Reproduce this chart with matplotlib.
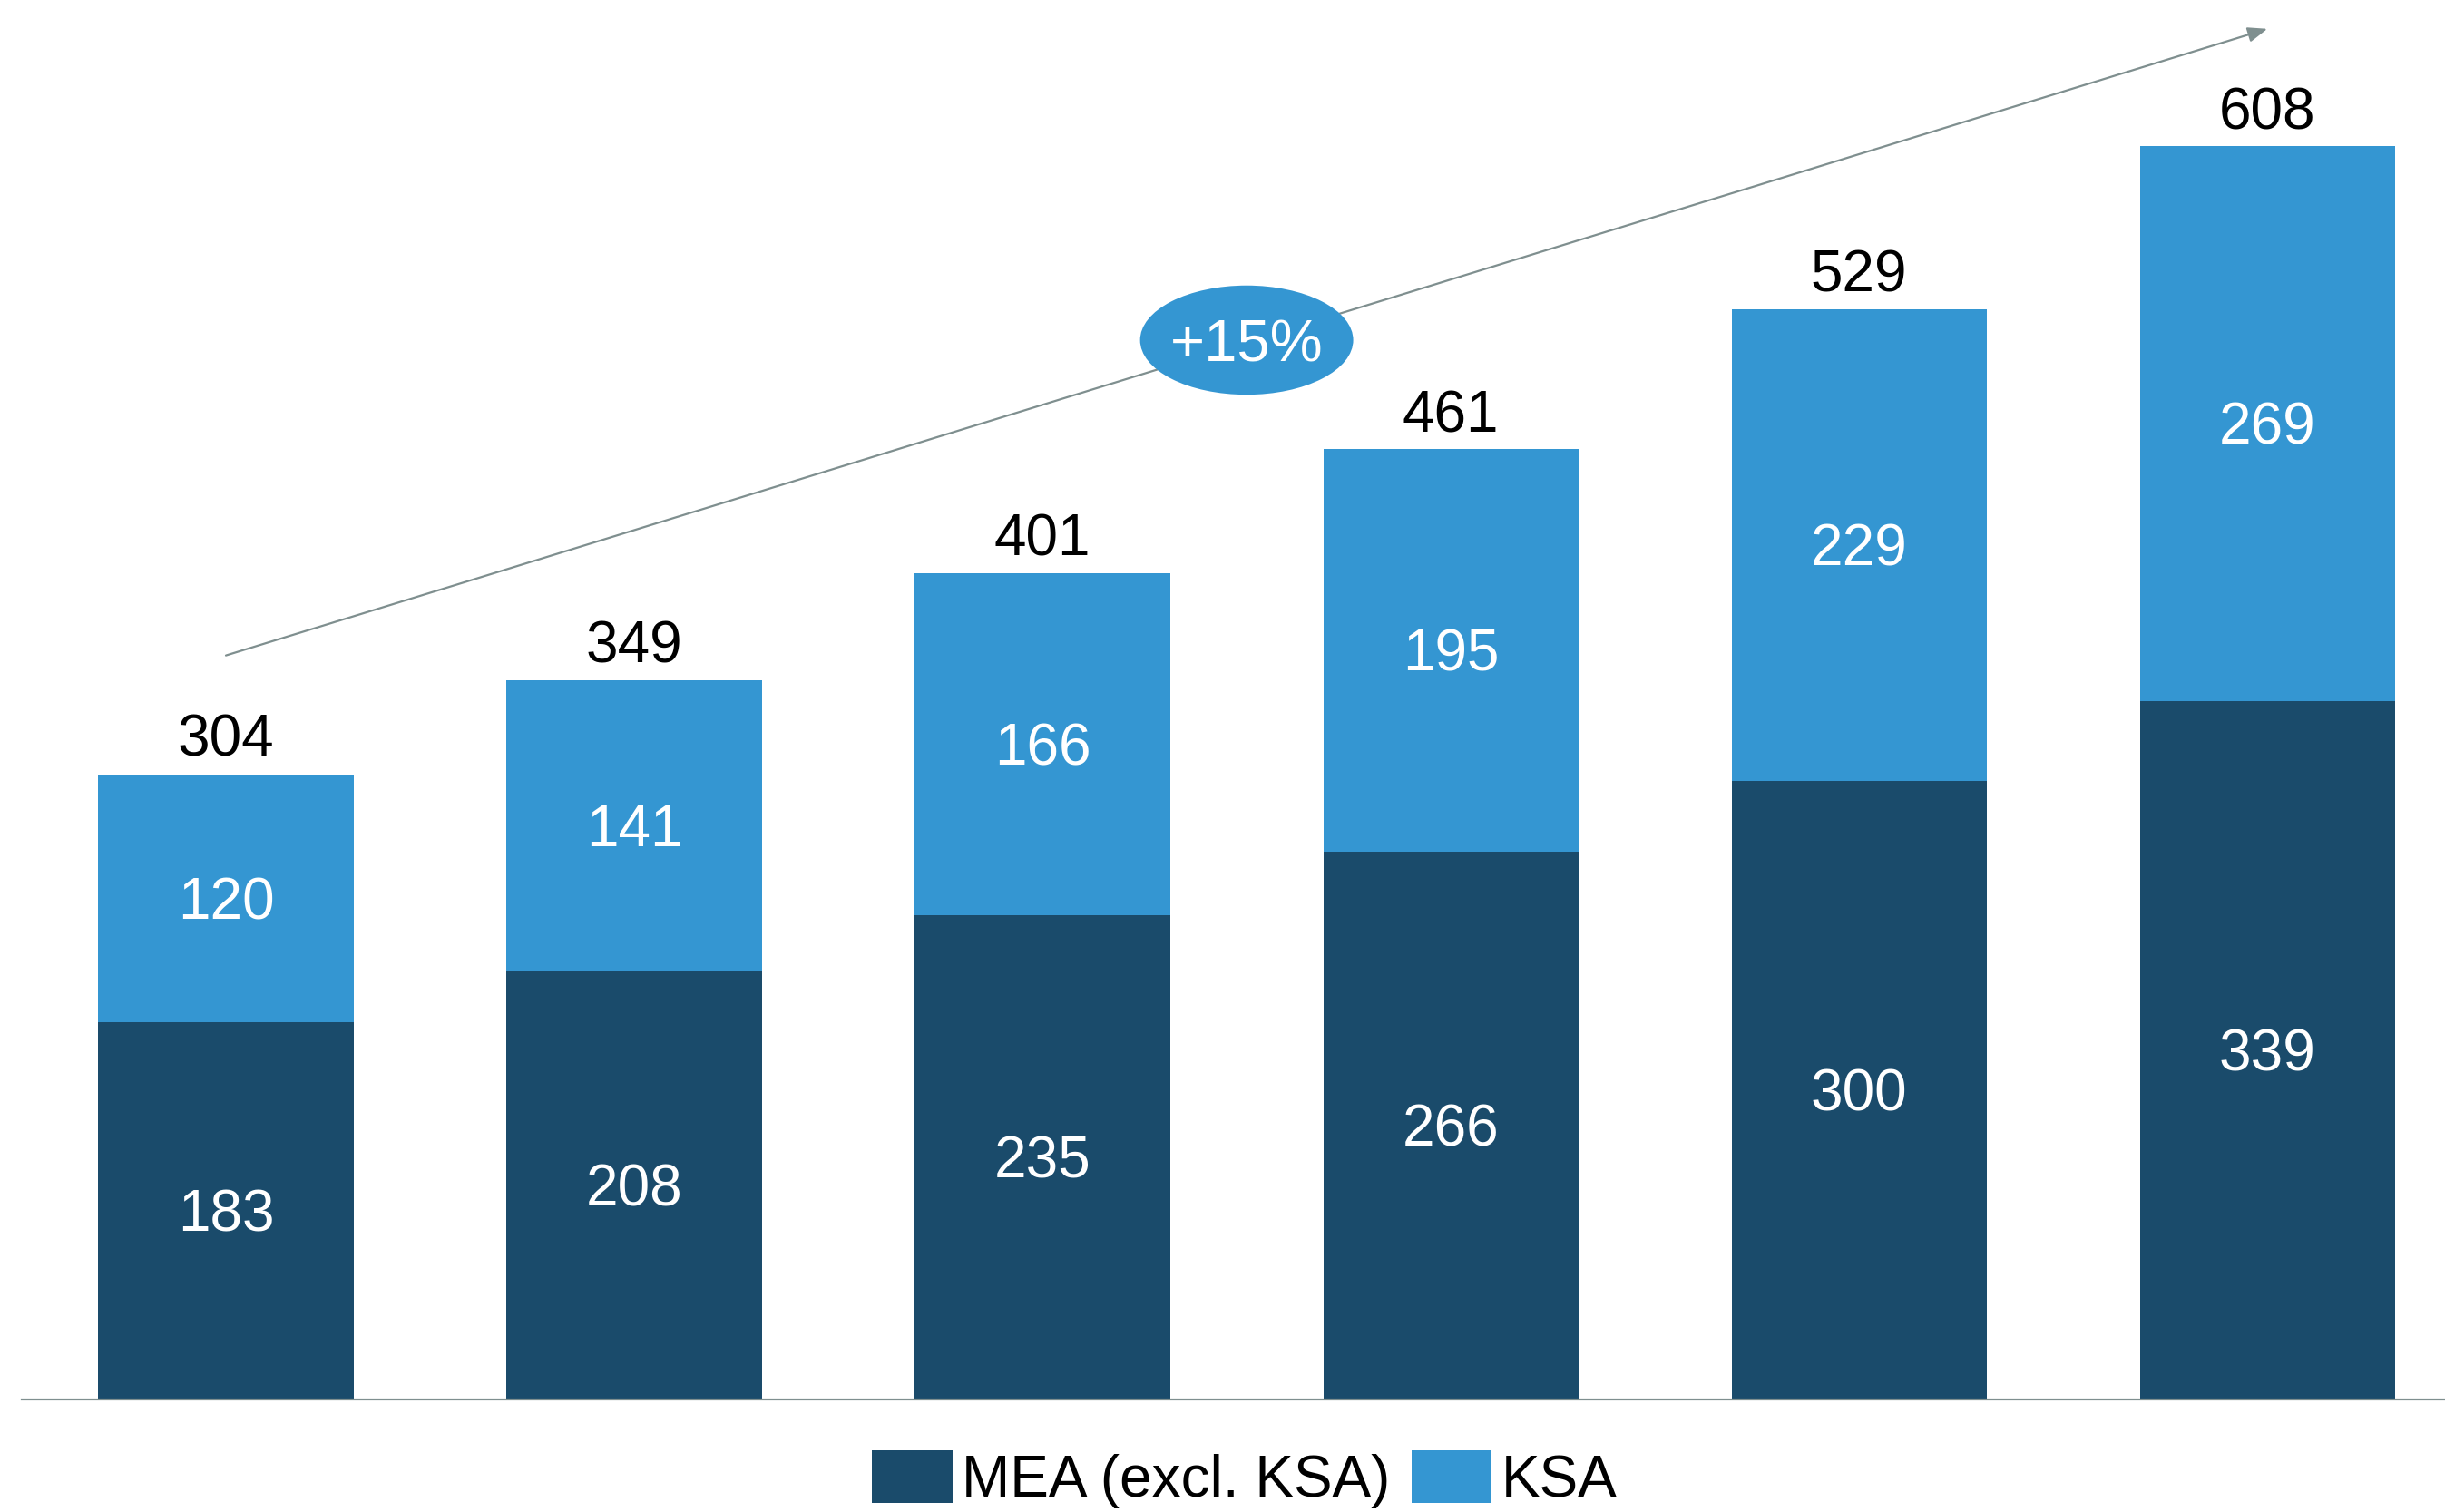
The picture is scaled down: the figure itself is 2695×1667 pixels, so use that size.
import matplotlib.pyplot as plt
from matplotlib.patches import Ellipse

plt.rcParams.update({
    "font.family": ["Liberation Sans", "DejaVu Sans"],
})

# ---- data ------------------------------------------------------------------
categories = ["1", "2", "3", "4", "5", "6"]
mea = [183, 208, 235, 266, 300, 339]
ksa = [120, 141, 166, 195, 229, 269]
totals = [304, 349, 401, 461, 529, 608]
cagr_label = "+15%"

COL_DARK = "#1a4b6b"
COL_LIGHT = "#3496d2"
COL_GREY = "#7f8f8f"

fig = plt.figure(figsize=(26.95, 16.67), dpi=100)
ax = fig.add_axes([0.0089, 0.0744, 0.9911, 0.9256])

x = list(range(len(categories)))
b1 = ax.bar(x, mea, width=0.625, color=COL_DARK, label="MEA (excl. KSA)")
b2 = ax.bar(x, ksa, width=0.625, bottom=mea, color=COL_LIGHT, label="KSA")

fs = 46
cap = 0.716 * fs      # cap height in points, used to centre digits visually


def label(xv, yv, txt, color, dy, size=fs, z=3):
    ax.annotate(txt, (xv, yv), xytext=(0, dy), textcoords="offset points",
                ha="center", va="baseline", color=color, fontsize=size,
                zorder=z)


for i in x:
    label(i, mea[i] / 2, f"{mea[i]}", "white", -cap / 2)
    label(i, mea[i] + ksa[i] / 2, f"{ksa[i]}", "white", -cap / 2)
    label(i, totals[i], f"{totals[i]}", "black", 13.7)

# growth arrow from first to last bar
ax.annotate("", xy=(x[-1], 665), xytext=(x[0], 361),
            arrowprops=dict(arrowstyle="-|>,head_length=1.3,head_width=0.5",
                            color=COL_GREY, lw=1.6, shrinkA=0, shrinkB=0))
ax.add_patch(Ellipse((2.5, 514), 0.522, 53, facecolor=COL_LIGHT,
                     edgecolor="none", zorder=5))
label(2.5, 514, cagr_label, "white", -0.716 * 47 / 2, size=47, z=6)

ax.set_xlim(-0.5, 5.435)
ax.set_ylim(0, 679)
for s in ["top", "right", "left"]:
    ax.spines[s].set_visible(False)
ax.spines["bottom"].set_color(COL_GREY)
ax.spines["bottom"].set_linewidth(1.6)
ax.set_xticks([])
ax.set_yticks([])

fig.legend(handles=[b1, b2], loc="center", bbox_to_anchor=(0.509, 0.0216),
           ncol=2, frameon=False, fontsize=fs, handlelength=1.39,
           handleheight=1.03, handletextpad=0.16, columnspacing=0.36,
           borderpad=0, borderaxespad=0)

fig.savefig("out.png", dpi=100)
